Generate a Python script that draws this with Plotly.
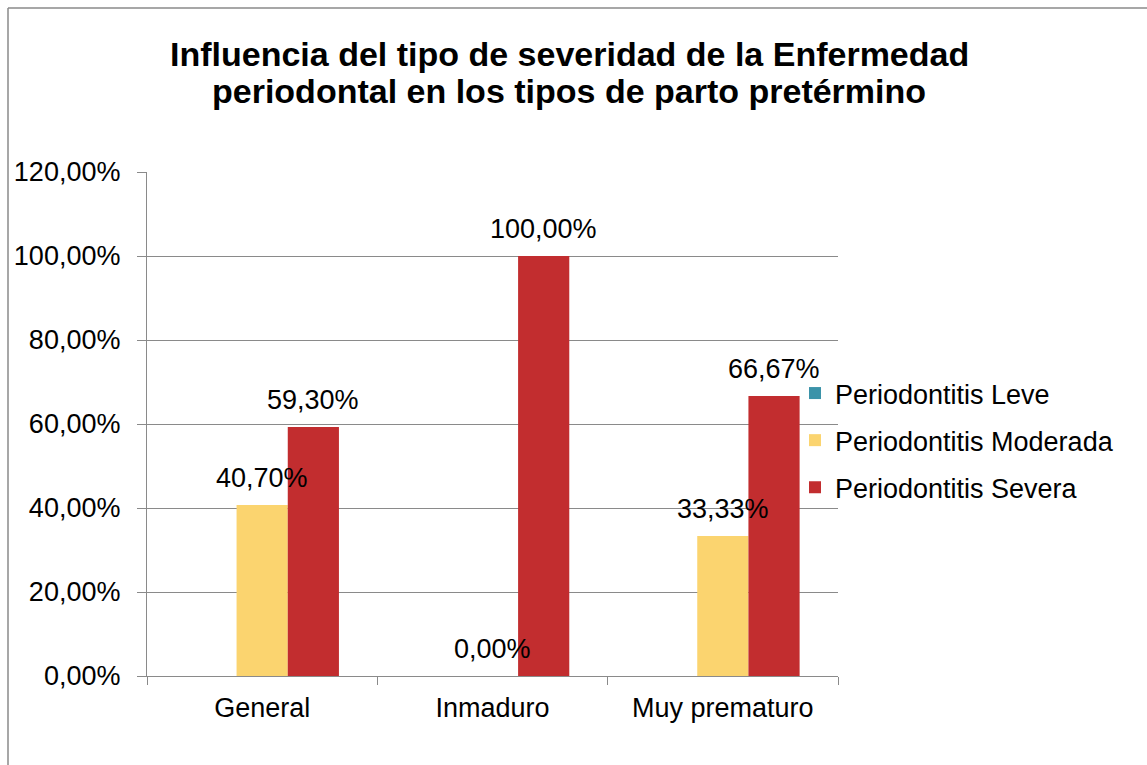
import plotly.graph_objects as go

# ---- data ----
categories = ["General", "Inmaduro", "Muy prematuro"]
series_names = ["Periodontitis Leve", "Periodontitis Moderada", "Periodontitis Severa"]
leve = [None, None, None]
moderada = [40.70, 0.00, 33.33]
severa = [59.30, 100.00, 66.67]
y_tickvals = [0, 20, 40, 60, 80, 100, 120]
y_ticktext = ["0,00%", "20,00%", "40,00%", "60,00%", "80,00%", "100,00%", "120,00%"]
title_lines = ["Influencia del tipo de severidad de la Enfermedad",
               "periodontal en los tipos de parto pretérmino"]

# ---- styling ----
colors = ["#3B93A9", "#FBD46F", "#C22D2F"]
FONT = "Liberation Sans, Arial, sans-serif"
W, H = 1147, 765
L, R, T, B = 147, 309, 172, 89
PW, PH = W - L - R, H - T - B
BARGAP = 1 / 3
barw = PW / len(categories) * (1 - BARGAP) / 3
GRID = "#8A8A8A"

fig = go.Figure()
all_series = [leve, moderada, severa]
for i, (name, vals) in enumerate(zip(series_names, all_series)):
    fig.add_trace(go.Bar(
        x=categories, y=vals, name=name, marker=dict(color=colors[i], line=dict(width=0)),
        legendgroup=name, hoverinfo="skip"))

def fmt(v):
    return f"{v:.2f}%".replace(".", ",")

annotations = []
for i, vals in enumerate(all_series):
    for cat, v in zip(categories, vals):
        if v is None:
            continue
        annotations.append(dict(
            x=cat, y=v, xref="x", yref="y", text=fmt(v), showarrow=False,
            xshift=(i - 1) * barw, yshift=27, yanchor="middle",
            font=dict(size=27, color="#000000", family=FONT)))

# title lines (pixel centres converted to paper coords)
title_cx = 569
title_cy = [54, 91]
for line, cy in zip(title_lines, title_cy):
    annotations.append(dict(
        x=(title_cx - L) / PW, y=(H - B - cy) / PH, xref="paper", yref="paper",
        text=line, showarrow=False, xanchor="center", yanchor="middle",
        font=dict(size=34, color="#000000", family=FONT, weight="bold")))

# chart-area frame: only its left and top edges fall inside the picture
bx, by = (8 - L) / PW, (H - B - 8) / PH
frame = [
    dict(type="line", xref="paper", yref="paper", x0=bx, x1=bx, y0=(H - B - H - 20) / PH, y1=by,
         line=dict(color=GRID, width=1.5), layer="below"),
    dict(type="line", xref="paper", yref="paper", x0=bx, x1=(W + 20 - L) / PW, y0=by, y1=by,
         line=dict(color=GRID, width=1.5), layer="below"),
]

fig.update_layout(
    width=W, height=H,
    margin=dict(l=L, r=R, t=T, b=B, pad=0, autoexpand=False),
    paper_bgcolor="white", plot_bgcolor="white",
    font=dict(family=FONT, size=27, color="#000000"),
    barmode="group", bargap=BARGAP, bargroupgap=0,
    showlegend=True,
    legend=dict(
        xref="container", yref="container", x=795 / W, y=1 - 369 / H,
        xanchor="left", yanchor="top", font=dict(size=27, family=FONT),
        tracegroupgap=9, bgcolor="rgba(0,0,0,0)", borderwidth=0,
        itemclick=False, itemdoubleclick=False),
    annotations=annotations,
    shapes=frame,
)

fig.update_xaxes(
    type="category", showline=True, linecolor=GRID, linewidth=1.3,
    ticks="outside", tickson="boundaries", ticklen=8, tickcolor=GRID, tickwidth=1.3,
    showgrid=False, zeroline=False, tickfont=dict(size=27, family=FONT),
    ticklabelstandoff=7)
fig.update_yaxes(
    range=[0, 120], tickvals=y_tickvals, ticktext=y_ticktext,
    showline=True, linecolor=GRID, linewidth=1.3,
    ticks="outside", ticklen=9, tickcolor=GRID, tickwidth=1.3,
    showgrid=True, gridcolor=GRID, gridwidth=1.3, zeroline=False,
    tickfont=dict(size=27, family=FONT), ticklabelstandoff=11)

fig.write_html("out.html", config={"displayModeBar": False},
               post_script="document.body.style.margin='0';document.body.style.overflow='hidden';"
                           "document.documentElement.style.overflow='hidden';")
